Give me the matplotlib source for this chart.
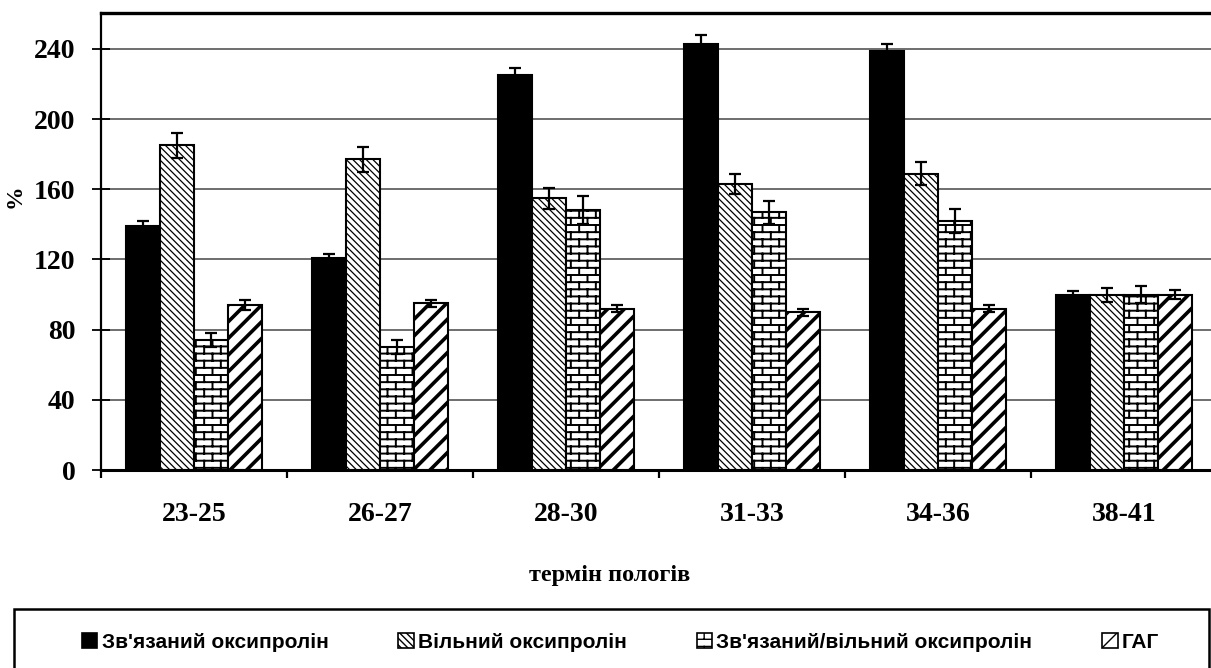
import warnings
import numpy as np
import matplotlib
matplotlib.use("Agg")
import matplotlib.pyplot as plt
from matplotlib import hatch as mhatch
from matplotlib.path import Path
from matplotlib.patches import Patch, Rectangle

warnings.filterwarnings("ignore", category=matplotlib.MatplotlibDeprecationWarning)

# gestation periods (weeks)
periods = ["23-25", "26-27", "28-30", "31-33", "34-36", "38-41"]
series_names = ["Зв'язаний оксипролін", "Вільний оксипролін",
                "Зв'язаний/вільний оксипролін", "ГАГ"]

# values in % of term-delivery level, with error bars
bound_hyp = [139, 121, 225, 243, 239, 100]
bound_err = [3, 2, 4, 5, 4, 2]
free_hyp = [185, 177, 155, 163, 169, 100]
free_err = [7, 7, 6, 5.5, 6.5, 4]
ratio_hyp = [74, 70, 148, 147, 142, 100]
ratio_err = [4, 4, 8, 6.5, 7, 5]
gag = [94, 95, 92, 90, 92, 100]
gag_err = [3, 2, 2, 2, 2, 2.5]


class BrickHatch(mhatch.HatchPatternBase):
    """Brick-wall hatch, selected with the letter 'b'."""
    rows, cols = 14, 6

    def __init__(self, hatch, density):
        self.on = 'b' in hatch
        R, C = self.rows, self.cols
        self.num_vertices = (2 * R + 2 * C * (R + 1)) if self.on else 0

    def set_vertices_and_codes(self, vertices, codes):
        R, C = self.rows, self.cols
        segs = []
        for r in range(R):
            y0 = (r + 0.5) / R
            y1 = y0 + 1.0 / R
            segs.append(((0.0, y0), (1.0, y0)))
            for k in range(C):
                x = (k + 0.25 + 0.5 * (r % 2)) / C
                if y1 > 1:
                    segs.append(((x, y0), (x, 1.0)))
                    segs.append(((x, 0.0), (x, y1 - 1)))
                else:
                    segs.append(((x, y0), (x, y1)))
        vertices[:] = np.array(segs).reshape(-1, 2)
        codes[0::2] = Path.MOVETO
        codes[1::2] = Path.LINETO


mhatch._hatch_types.append(BrickHatch)

serif = "Liberation Serif"

fig = plt.figure(figsize=(12.11, 6.68), dpi=100)
ax = fig.add_axes([101 / 1211, 198 / 668, 1116 / 1211, 457 / 668])

x = np.arange(len(periods))
w = 0.183
styles = [
    dict(color="black", hatch=None, hlw=1.0),
    dict(color="white", hatch="\\\\\\\\\\", hlw=0.9),
    dict(color="white", hatch="b", hlw=1.4),
    dict(color="white", hatch="//", hlw=2.6),
]
data = [(bound_hyp, bound_err), (free_hyp, free_err),
        (ratio_hyp, ratio_err), (gag, gag_err)]

handles = []
for i, ((vals, errs), st) in enumerate(zip(data, styles)):
    xpos = x + (i - 1.5) * w
    with plt.rc_context({"hatch.linewidth": st["hlw"], "hatch.color": "black"}):
        ax.bar(xpos, vals, w, color=st["color"], edgecolor="black",
               linewidth=1.5, hatch=st["hatch"], zorder=2)
        handles.append(Patch(facecolor=st["color"], edgecolor="black",
                             linewidth=1.2, hatch=st["hatch"]))
    ax.errorbar(xpos, vals, yerr=errs, fmt="none", ecolor="black",
                elinewidth=1.6, capsize=4.5, capthick=1.6, zorder=3)

ax.set_xlim(-0.5, 5.5)
ax.set_ylim(0, 260.5)
ax.set_yticks(range(0, 241, 40))
ax.yaxis.grid(True, color="#555555", linewidth=1.2)
ax.set_axisbelow(True)

ax.set_xticks(x)
ax.set_xticklabels(periods)
ax.set_xticks(np.arange(-0.5, 6, 1), minor=True)
ax.tick_params(axis="x", which="major", length=0, pad=23)
ax.tick_params(axis="x", which="minor", length=6, width=1.6, direction="out")
ax.tick_params(axis="y", direction="inout", length=13, width=1.3, pad=12)
for lab in ax.get_xticklabels() + ax.get_yticklabels():
    lab.set_fontfamily(serif)
    lab.set_fontweight("bold")
    lab.set_fontsize(20)

ax.spines["top"].set_linewidth(2.4)
ax.spines["bottom"].set_linewidth(2.2)
ax.spines["left"].set_linewidth(1.6)
ax.spines["right"].set_linewidth(1.6)

ax.set_xlabel("термін пологів", fontfamily=serif, fontweight="bold", fontsize=17.5)
ax.xaxis.set_label_coords(0.456, -0.23)
ax.xaxis.label.set_va("center")
ax.set_ylabel("%", fontfamily=serif, fontweight="bold", fontsize=17)
ax.yaxis.set_label_coords(-0.077, 0.60)
ax.yaxis.label.set_va("center")

# legend below the chart in its own box
fig.add_artist(Rectangle((14 / 1211, -0.05), (1209 - 14) / 1211, 0.05 + 1 - 609 / 668,
                         transform=fig.transFigure, fill=False,
                         edgecolor="black", linewidth=1.8))
fig.legend(handles, series_names, ncol=4, loc="center left",
           bbox_to_anchor=(63 / 1211, 1 - 642 / 668), frameon=False,
           prop=dict(family="Liberation Sans", weight="bold", size=15),
           handlelength=0.75, handleheight=0.75, handletextpad=0.2,
           columnspacing=3.35)

fig.savefig("out.png", dpi=100)
